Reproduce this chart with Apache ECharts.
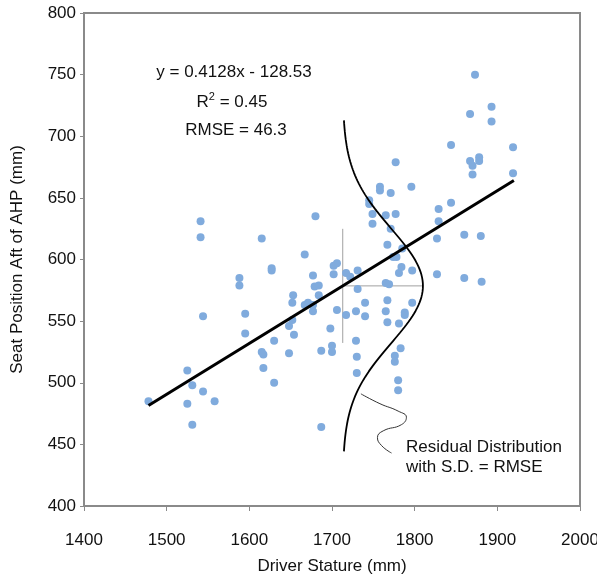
<!DOCTYPE html>
<html>
<head>
<meta charset="utf-8">
<script src="https://cdn.jsdelivr.net/npm/echarts@6.0.0/dist/echarts.min.js"></script>
<style>
  html, body { margin: 0; padding: 0; background: #fff; }
  #chart { width: 597px; height: 575px; }
</style>
</head>
<body>
<div id="chart"></div>
<script>
// driver stature (mm) vs seat position aft of AHP (mm)
const stature = [
  1478, 1525, 1531, 1544, 1525, 1558, 1531, 1595, 1615, 1617,
  1617, 1541, 1541, 1615, 1627, 1627, 1588, 1588, 1544, 1595,
  1680, 1667, 1702, 1706, 1677, 1702, 1717, 1722, 1731, 1684,
  1679, 1731, 1653, 1684, 1652, 1671, 1667, 1677, 1677, 1706,
  1717, 1729, 1740, 1740, 1765, 1767, 1765, 1769, 1767, 1652,
  1648, 1698, 1749, 1765, 1749, 1777, 1758, 1758, 1771, 1745,
  1745, 1873, 1867, 1893, 1893, 1844, 1919, 1867, 1878, 1878,
  1870, 1870, 1919, 1777, 1796, 1771, 1785, 1829, 1844, 1829,
  1827, 1860, 1880, 1774, 1778, 1784, 1781, 1797, 1827, 1860,
  1881, 1797, 1788, 1788, 1767, 1781, 1783, 1776, 1776, 1780,
  1780, 1654, 1630, 1648, 1630, 1687, 1700, 1700, 1729, 1730,
  1730, 1687
];
const seatPos = [
  485, 510, 498, 493, 483, 485, 466, 540, 525, 512,
  523, 631, 618, 617, 593, 591, 585, 579, 554, 556,
  635, 604, 595, 597, 587, 588, 589, 586, 591, 579,
  578, 576, 571, 571, 565, 565, 563, 563, 558, 559,
  555, 558, 565, 554, 558, 567, 581, 580, 612, 551,
  546, 544, 629, 636, 637, 637, 659, 656, 654, 648,
  645, 750, 718, 724, 712, 693, 691, 680, 683, 680,
  676, 669, 670, 679, 659, 625, 609, 641, 646, 631,
  617, 620, 619, 602, 602, 594, 589, 591, 588, 585,
  582, 565, 557, 555, 549, 548, 528, 522, 517, 502,
  494, 539, 534, 524, 500, 526, 530, 525, 534, 521,
  508, 464
];

// fit and residual spread (from the chart's own annotation)
const slope = 0.4128;
const intercept = -128.53;
const rmse = 46.3;
const fitRange = [1478, 1920];

// where the residual distribution sketch sits
const distBaseX = 1713;
const distPeakWidth = 97;
const distSpan = 2.9;

// leader line from the label to the curve
const leaderX = [1735, 1758, 1780, 1790, 1784, 1762, 1755, 1760, 1772];
const leaderY = [491, 483, 477, 472, 466, 461, 455.5, 449, 443];

const xTicks = [1400, 1500, 1600, 1700, 1800, 1900, 2000];
const yTicks = [400, 450, 500, 550, 600, 650, 700, 750, 800];

const FONT = "Liberation Sans, Arial, sans-serif";

const points = stature.map((x, i) => [x, seatPos[i]]);
const fitLine = fitRange.map((x) => [x, slope * x + intercept]);

const distMean = slope * distBaseX + intercept;
const curve = [];
for (let k = 0; k <= 120; k++) {
  const z = -distSpan + (2 * distSpan * k) / 120;
  curve.push([distBaseX + distPeakWidth * Math.exp(-0.5 * z * z), distMean + z * rmse]);
}
const vLine = [[distBaseX, distMean - rmse], [distBaseX, distMean + rmse]];
const hLine = [[distBaseX, distMean], [distBaseX + distPeakWidth, distMean]];
const leader = leaderX.map((x, i) => [x, leaderY[i]]);

const chart = echarts.init(document.getElementById("chart"));
const option = {
  animation: false,
  backgroundColor: "#fff",
  textStyle: { fontFamily: FONT },
  grid: {
    left: 84, right: 17, top: 13, bottom: 69,
    show: true, borderColor: "#8a8a8a", borderWidth: 2,
    containLabel: false, outerBoundsMode: "none"
  },
  xAxis: {
    type: "value",
    min: xTicks[0], max: xTicks[xTicks.length - 1], interval: 100,
    name: "Driver Stature (mm)",
    nameLocation: "middle", nameGap: 52,
    nameTextStyle: { fontSize: 17, color: "#111", fontFamily: FONT },
    axisLine: { show: true, lineStyle: { color: "#8a8a8a", width: 2 } },
    axisTick: { show: true, length: 5, lineStyle: { color: "#8a8a8a" } },
    axisLabel: { fontSize: 17, color: "#111", margin: 26, fontFamily: FONT, formatter: (v) => String(v) },
    splitLine: { show: false }
  },
  yAxis: {
    type: "value",
    min: yTicks[0], max: yTicks[yTicks.length - 1], interval: 50,
    name: "Seat Position Aft of AHP (mm)",
    nameLocation: "middle", nameGap: 58,
    nameTextStyle: { fontSize: 17, color: "#111", fontFamily: FONT },
    axisLine: { show: true, lineStyle: { color: "#8a8a8a", width: 2 } },
    axisTick: { show: true, length: 4, lineStyle: { color: "#8a8a8a" } },
    axisLabel: { fontSize: 17, color: "#111", margin: 8, fontFamily: FONT, formatter: (v) => String(v) },
    splitLine: { show: false }
  },
  graphic: [
    {
      type: "text", x: 234, y: 72,
      style: { text: "y = 0.4128x - 128.53", font: "17px " + FONT, fill: "#111", align: "center", verticalAlign: "middle" }
    },
    {
      type: "text", x: 232, y: 102,
      style: {
        text: "{a|R}{s|2}{a| = 0.45}",
        fill: "#111", align: "center", verticalAlign: "middle",
        rich: {
          a: { fontSize: 17, fontFamily: FONT, fill: "#111" },
          s: { fontSize: 11, fontFamily: FONT, fill: "#111", padding: [0, 0, 10, 0] }
        }
      }
    },
    {
      type: "text", x: 236, y: 130,
      style: { text: "RMSE = 46.3", font: "17px " + FONT, fill: "#111", align: "center", verticalAlign: "middle" }
    },
    {
      type: "text", x: 406, y: 447,
      style: { text: "Residual Distribution", font: "17px " + FONT, fill: "#111", align: "left", verticalAlign: "middle" }
    },
    {
      type: "text", x: 406, y: 467,
      style: { text: "with S.D. = RMSE", font: "17px " + FONT, fill: "#111", align: "left", verticalAlign: "middle" }
    }
  ],
  series: [
    {
      name: "cross-v", type: "line", data: vLine, symbol: "none",
      lineStyle: { color: "#a0a0a0", width: 1 }, z: 1
    },
    {
      name: "cross-h", type: "line", data: hLine, symbol: "none",
      lineStyle: { color: "#a0a0a0", width: 1 }, z: 1
    },
    {
      name: "data", type: "scatter", data: points,
      symbolSize: 8, itemStyle: { color: "#80abdd", opacity: 1 }, z: 2
    },
    {
      name: "fit", type: "line", data: fitLine, symbol: "none",
      lineStyle: { color: "#000", width: 3 }, z: 3
    },
    {
      name: "residual", type: "line", data: curve, symbol: "none",
      lineStyle: { color: "#000", width: 1.8 }, z: 3
    },
    {
      name: "leader", type: "line", data: leader, symbol: "none", smooth: 0.5,
      lineStyle: { color: "#333", width: 1 }, z: 3
    }
  ]
};
chart.setOption(option);
</script>
</body>
</html>
